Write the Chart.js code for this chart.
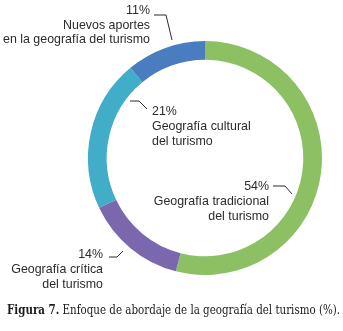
<!DOCTYPE html>
<html>
<head>
<meta charset="utf-8">
<script src="https://cdn.jsdelivr.net/npm/chart.js@4"></script>
<style>
html,body{margin:0;padding:0;background:#fff;}
#c{display:block;}
</style>
</head>
<body>
<canvas id="c" width="343" height="331"></canvas>
<script>
const categories = [
  "Geografía tradicional del turismo",
  "Geografía crítica del turismo",
  "Geografía cultural del turismo",
  "Nuevos aportes en la geografía del turismo"
];
const values = [54, 14, 21, 11];
const colors = ["#8cc063", "#7b67ae", "#41adc9", "#4a7cc0"];
const labelLines = [
  ["54%", "Geografía tradicional", "del turismo"],
  ["14%", "Geografía crítica", "del turismo"],
  ["21%", "Geografía cultural", "del turismo"],
  ["11%", "Nuevos aportes", "en la geografía del turismo"]
];
const captionBold = "Figura 7.";
const captionRest = " Enfoque de abordaje de la geografía del turismo (%).";

const LABEL_FONT = '"Liberation Sans", Arial, sans-serif';
const CAP_FONT = '"DejaVu Serif", "Liberation Serif", serif';

// annotation layout (style, not data)
const labelLayout = [
  {x: 269, align: "right", y0: 190, lh: 15, leader: [[273,186],[285,186],[292,194]]},
  {x: 103, align: "right", y0: 258, lh: 15, leader: [[109,257],[117,257],[123,251]]},
  {x: 152, align: "left",  y0: 115, lh: 15, leader: [[130,101],[139,101],[147,109]]},
  {x: 150, align: "right", y0: 14,  lh: 14.5, leader: [[154,15],[166,15],[172,40]]}
];

const annot = {
  id: "annot",
  afterDraw(chart) {
    const ctx = chart.ctx;
    ctx.save();
    const FS = 13.5;
    ctx.font = FS + "px " + LABEL_FONT;
    const sx = 147 / ctx.measureText("en la geografía del turismo").width;
    ctx.fillStyle = "#2b2b2b";
    ctx.strokeStyle = "#2b2b2b";
    ctx.lineWidth = 1;
    ctx.textBaseline = "alphabetic";
    labelLayout.forEach((L, i) => {
      ctx.save();
      ctx.translate(L.x, 0);
      ctx.scale(sx, 1);
      ctx.font = FS + "px " + LABEL_FONT;
      ctx.textAlign = L.align;
      labelLines[i].forEach((t, j) => ctx.fillText(t, 0, L.y0 + j * L.lh));
      ctx.restore();
      ctx.beginPath();
      L.leader.forEach((p, k) => k ? ctx.lineTo(p[0], p[1]) : ctx.moveTo(p[0], p[1]));
      ctx.stroke();
    });
    // caption
    const CS = 12;
    ctx.font = "bold " + CS + "px " + CAP_FONT;
    const wb = ctx.measureText(captionBold).width;
    ctx.font = "normal " + CS + "px " + CAP_FONT;
    const wr = ctx.measureText(captionRest).width;
    const cx = 333 / (wb + wr);
    ctx.save();
    ctx.translate(7, 0);
    ctx.scale(cx, 1);
    ctx.textAlign = "left";
    ctx.fillStyle = "#1a1a1a";
    ctx.font = "bold " + CS + "px " + CAP_FONT;
    ctx.fillText(captionBold, 0, 314);
    ctx.font = "normal " + CS + "px " + CAP_FONT;
    ctx.fillText(captionRest, wb, 314);
    ctx.restore();
    ctx.restore();
  }
};

new Chart(document.getElementById("c"), {
  type: "doughnut",
  data: {
    labels: categories,
    datasets: [{
      data: values,
      backgroundColor: colors,
      borderWidth: 0,
      hoverOffset: 0
    }]
  },
  options: {
    responsive: false,
    animation: false,
    cutout: "84%",
    rotation: 0,
    layout: {padding: {left: 88, right: 21, top: 41, bottom: 56}},
    plugins: {
      legend: {display: false},
      tooltip: {enabled: false},
      title: {display: false}
    }
  },
  plugins: [annot]
});
</script>
</body>
</html>
